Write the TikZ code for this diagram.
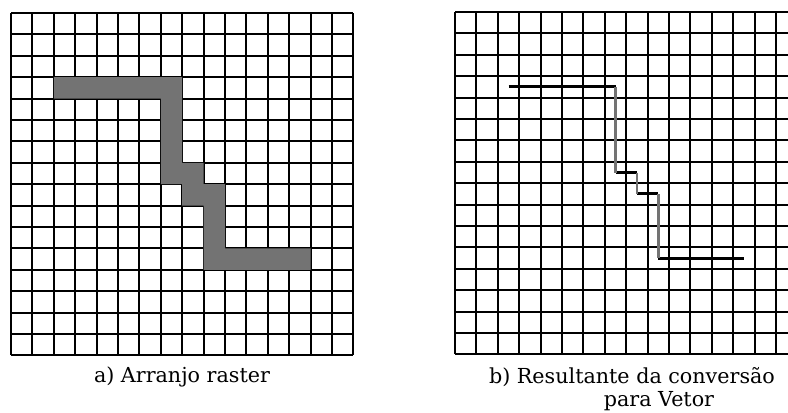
\documentclass[tikz,border=0pt]{standalone}
\usepackage{fontspec}
\setmainfont{DejaVu Serif}
\usepackage{tikz}
\usetikzlibrary{positioning}

\begin{document}
\begin{tikzpicture}[x=0.75pt, y=0.75pt, every node/.style={font={\fontsize{15.5}{19}\selectfont}, inner sep=0pt}, gridline/.style={black, line width=1.4pt}, cellfill/.style={fill=black!55}, vechor/.style={black, line width=2.3pt}, vecver/.style={black!55, line width=1.8pt}]
    \useasboundingbox (0,0) rectangle (788,412);
    \clip (0,0) rectangle (788,412);
    % a) raster grid with the shaded cells
    \begin{scope}[shift={(11,399)}, x=16.05pt, y=-16.05pt]
      \foreach \i in {0,...,16}{
        \draw[gridline] (\i,0) -- (\i,16);
        \draw[gridline] (0,\i) -- (16,\i);
      }
      \fill[cellfill] (2,3) -- (8,3) -- (8,7) -- (9,7) -- (9,8) -- (10,8) -- (10,11) -- (14,11) -- (14,12) -- (9,12) -- (9,9) -- (8,9) -- (8,8) -- (7,8) -- (7,4) -- (2,4) -- cycle;
    \end{scope}
    % b) same grid, line through the cell centres
    \begin{scope}[shift={(455,400)}, x=16.05pt, y=-16.05pt]
      \foreach \i in {0,...,16}{
        \draw[gridline] (\i,0) -- (\i,16);
        \draw[gridline] (0,\i) -- (16,\i);
      }
      \foreach \xa/\xb/\yy in {2.5/7.5/3.5, 7.5/8.5/7.5, 8.5/9.5/8.5, 9.5/13.5/11.5}
        \draw[vechor] (\xa,\yy) -- (\xb,\yy);
      \foreach \xx/\ya/\yb in {7.5/3.5/7.5, 8.5/7.5/8.5, 9.5/8.5/11.5}
        \draw[vecver] (\xx,\ya) -- (\xx,\yb);
    \end{scope}
    \node[anchor=base] (rasterlbl) at (182,30) {a) Arranjo raster};
    \node[anchor=base] (vetorlbl) at (632,29) {b) Resultante da conversão};
    \node[anchor=base] (vetorlbl2) at (659,6) {para Vetor};
\end{tikzpicture}
\end{document}
